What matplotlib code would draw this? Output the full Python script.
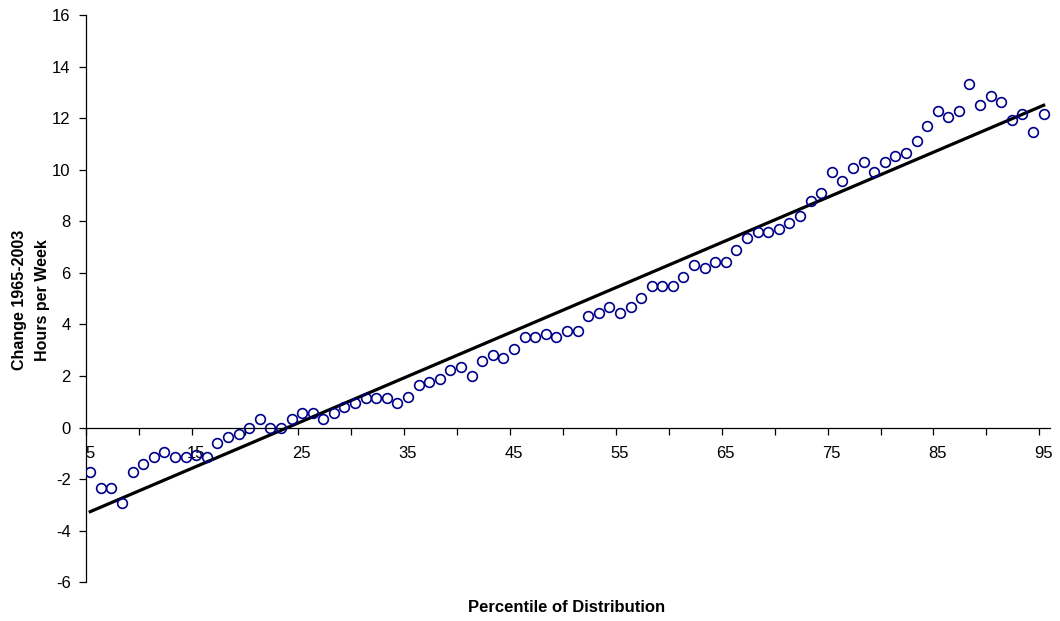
import numpy as np
import matplotlib
matplotlib.use('Agg')
import matplotlib.pyplot as plt
import matplotlib.transforms as mtransforms
from matplotlib.ticker import MultipleLocator, FuncFormatter

plt.rcParams['font.family'] = ['Liberation Sans', 'DejaVu Sans']
plt.rcParams['axes.unicode_minus'] = False

# percentiles 5..95 and change in hours per week
percentile = list(range(5, 96))
change = [
    -1.73, -2.33, -2.33, -2.91, -1.73, -1.40, -1.16, -0.93, -1.16, -1.16,   # 5-14
    -1.05, -1.16, -0.58, -0.35, -0.23, 0.00, 0.35, 0.00, 0.00, 0.35,        # 15-24
    0.58, 0.58, 0.35, 0.58, 0.81, 0.95, 1.16, 1.16, 1.16, 0.95,             # 25-34
    1.17, 1.64, 1.76, 1.88, 2.23, 2.34, 1.99, 2.58, 2.81, 2.69,             # 35-44
    3.04, 3.51, 3.51, 3.62, 3.51, 3.74, 3.74, 4.32, 4.44, 4.67,             # 45-54
    4.44, 4.67, 5.02, 5.49, 5.49, 5.49, 5.84, 6.30, 6.19, 6.42,             # 55-64
    6.42, 6.90, 7.37, 7.59, 7.59, 7.71, 7.94, 8.19, 8.77, 9.11,             # 65-74
    9.93, 9.58, 10.05, 10.28, 9.93, 10.28, 10.52, 10.63, 11.10, 11.68,      # 75-84
    12.26, 12.03, 12.26, 13.31, 12.50, 12.84, 12.61, 11.91, 12.15, 11.45,   # 85-94
    12.15,                                                                   # 95
]

# trend line end points
trend_x = [5, 95]
trend_y = [-3.26, 12.5]

# points sit a little right of the ticks, like the original
offset = 0.4

fig = plt.figure(figsize=(10.6, 6.21), dpi=100)
ax = fig.add_axes([86 / 1060, 1 - 582.3 / 621, (1050 - 86) / 1060, (582.3 - 15) / 621])

ax.plot(np.array(trend_x) + offset, trend_y, color='black', lw=2.3, zorder=2)
ax.plot(np.array(percentile) + offset, change, 'o', mfc='none', mec='#00008B',
        ms=7, mew=1.2, zorder=3)

ax.set_xlim(5, 96)
ax.set_ylim(-6, 16)

for s in ['top', 'right']:
    ax.spines[s].set_visible(False)
ax.spines['bottom'].set_position(('data', 0))
ax.spines['bottom'].set_bounds(5, 96)
for s in ['left', 'bottom']:
    ax.spines[s].set_linewidth(0.9)

ax.xaxis.set_major_locator(MultipleLocator(5))
ax.xaxis.set_major_formatter(FuncFormatter(lambda v, p: '%d' % v if int(round(v)) % 10 == 5 else ''))
ax.yaxis.set_major_locator(MultipleLocator(2))
ax.tick_params(axis='x', direction='out', length=5, width=0.9, labelsize=12, pad=8)
ax.tick_params(axis='y', direction='out', length=5, width=0.9, labelsize=12, pad=6)

# nudge x tick labels right a few pixels
shift = mtransforms.ScaledTranslation(4 / 100, 0, fig.dpi_scale_trans)
for lab in ax.get_xticklabels():
    lab.set_transform(lab.get_transform() + shift)

fig.text(31 / 1060, 1 - 300 / 621, 'Change 1965-2003\nHours per Week', rotation=90,
         ha='center', va='center', fontsize=11.5, fontweight='bold', linespacing=1.6)
fig.text(567 / 1060, 1 - 608 / 621, 'Percentile of Distribution',
         ha='center', va='center', fontsize=12, fontweight='bold')

fig.savefig('out.png', dpi=100)
